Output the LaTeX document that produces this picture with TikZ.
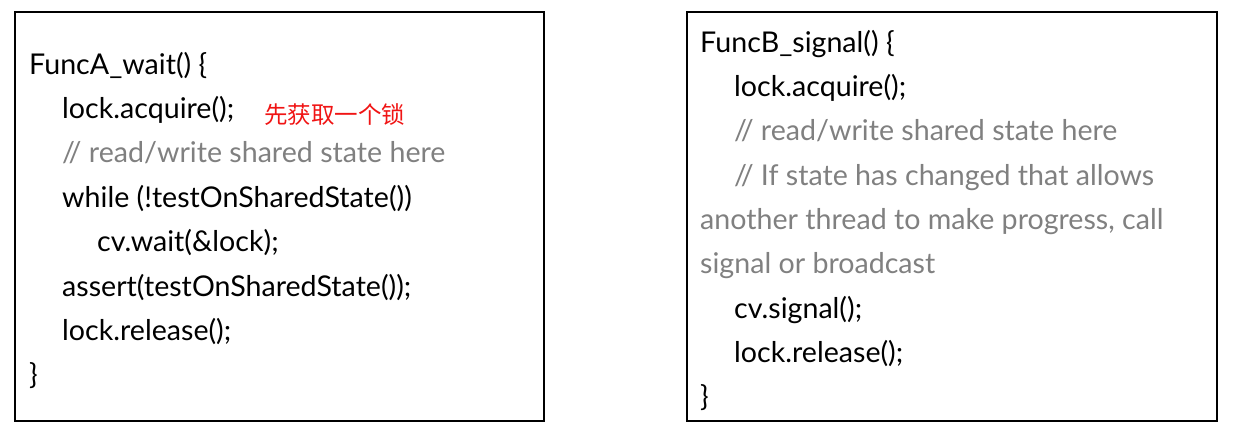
\documentclass[tikz,border=0pt]{standalone}
\usepackage{fontspec}
\setmainfont{Lato}
\newfontfamily\cjkfont{Noto Sans CJK SC}
\definecolor{cmtgray}{RGB}{128,128,128}
\definecolor{notered}{RGB}{240,20,20}
\begin{document}
\begin{tikzpicture}[x=1pt,y=-1pt,
  codebox/.style={draw=black,line width=2pt},
  code/.style={anchor=base west,inner sep=0pt,font=\fontsize{28.6}{30}\selectfont,text=black},
  cmt/.style={code,text=cmtgray},
  note/.style={anchor=west,inner sep=0pt,font=\cjkfont\fontsize{23.5}{25}\selectfont,text=notered}]
\useasboundingbox (0,0) rectangle (1237,431);
\draw[codebox] (15,12) rectangle (544,421);
\draw[codebox] (687,12) rectangle (1217,421);
% Box A
\node[code] (a1) at (29,74) {FuncA\_wait() \{};
\node[code] (a2) at (62,118.4) {lock.acquire();};
\node[note] (an) at (264,115) {先获取一个锁};
\node[cmt] (a3) at (62,162.8) {// read/write shared state here};
\node[code] (a4) at (62,207.2) {while (!testOnSharedState())};
\node[code] (a5) at (97,251.6) {cv.wait(\&lock);};
\node[code] (a6) at (62,296) {assert(testOnSharedState());};
\node[code] (a7) at (62,340.4) {lock.release();};
\node[code] (a8) at (29,384.8) {\}};
% Box B
\node[code] (b1) at (700,52) {FuncB\_signal() \{};
\node[code] (b2) at (734,96.3) {lock.acquire();};
\node[cmt] (b3) at (734,140.6) {// read/write shared state here};
\node[cmt] (b4) at (734,185) {// If state has changed that allows};
\node[cmt] (b5) at (700,229) {another thread to make progress, call};
\node[cmt] (b6) at (700,273.5) {signal or broadcast};
\node[code] (b7) at (734,318) {cv.signal();};
\node[code] (b8) at (734,362) {lock.release();};
\node[code] (b9) at (700,406.5) {\}};
\end{tikzpicture}
\end{document}
